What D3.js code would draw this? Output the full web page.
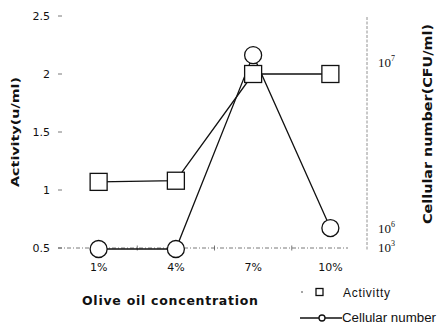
<!DOCTYPE html>
<meta charset="utf-8">
<style>
body { margin: 0; background: #fff; }
text { fill: #111; }
.tick-left { font: 11px "DejaVu Sans", sans-serif; }
.title { font-family: "DejaVu Sans", Verdana, sans-serif; font-weight: bold; }
.sup { font-family: "Liberation Serif", "DejaVu Serif", serif; }
.legend { font: 12px "Liberation Sans Narrow", "Liberation Sans", Arial, sans-serif; }
</style>
<svg width="437" height="331"></svg>
<script src="https://d3js.org/d3.v7.min.js"></script>
<script>

var categories = ["1%", "4%", "7%", "10%"];
var activity = [1.07, 1.08, 2.0, 2.0];          // u/ml
var cellular = [1e3, 1e3, 1.1e7, 9.8e5];        // CFU/ml
var leftTicks = [0.5, 1, 1.5, 2, 2.5];
var rightTicks = [{ v: 1e7, b: "10", e: "7" }, { v: 1e6, b: "10", e: "6" }, { v: 1e3, b: "10", e: "3" }];

var svg = d3.select("svg");

var x = d3.scaleBand().domain(categories).range([60, 369]).paddingInner(0);
var y = d3.scaleLinear().domain([0.5, 2.5]).range([248, 16]);
// broken log axis: 10^3 sits just under 10^6
var yr = d3.scaleLinear().domain([3, 6, 7]).range([249, 228, 62]);
function ry(v) { return yr(Math.log10(v)); }
function cx(c) { return x(c) + x.bandwidth() / 2; }

// x axis (dash-dot line)
svg.append("line")
  .attr("x1", 58).attr("x2", 348).attr("y1", y(0.5)).attr("y2", y(0.5))
  .attr("stroke", "#555").attr("stroke-width", 0.8)
  .attr("stroke-dasharray", "4,2,1,2");
svg.selectAll(".xtick").data(categories.slice(1))
  .enter().append("line")
  .attr("x1", function(d) { return x(d); }).attr("x2", function(d) { return x(d); })
  .attr("y1", y(0.5) - 2.5).attr("y2", y(0.5) + 2.5)
  .attr("stroke", "#555").attr("stroke-width", 0.8);
svg.selectAll(".xlab").data(categories)
  .enter().append("text")
  .attr("class", "tick-left")
  .attr("x", cx).attr("y", 271)
  .attr("text-anchor", "middle")
  .text(function(d) { return d; });

// left ticks
svg.selectAll(".ytick").data(leftTicks)
  .enter().append("line")
  .attr("x1", 58).attr("x2", 62)
  .attr("y1", y).attr("y2", y)
  .attr("stroke", "#555").attr("stroke-width", 0.8);
svg.selectAll(".ylab").data(leftTicks)
  .enter().append("text")
  .attr("class", "tick-left")
  .attr("x", 50).attr("y", function(d) { return y(d) + 4; })
  .attr("text-anchor", "end")
  .text(function(d) { return d; });

// right axis (dashed)
svg.append("line")
  .attr("x1", 367).attr("x2", 367).attr("y1", 17).attr("y2", 250)
  .attr("stroke", "#777").attr("stroke-width", 0.8)
  .attr("stroke-dasharray", "3,1.5");
var rl = svg.selectAll(".rlab").data(rightTicks)
  .enter().append("text")
  .attr("class", "sup")
  .attr("x", 378)
  .attr("y", function(d, i) { return i === 2 ? 252 : ry(d.v) + 5; })
  .attr("font-size", 13);
rl.append("tspan").text(function(d) { return d.b; });
rl.append("tspan").attr("dy", -6).attr("font-size", 8).text(function(d) { return d.e; });

// titles
svg.append("text").attr("class", "title")
  .attr("transform", "translate(19,132) rotate(-90)")
  .attr("text-anchor", "middle").attr("font-size", 11)
  .attr("textLength", 110).attr("lengthAdjust", "spacingAndGlyphs")
  .text("Activity(u/ml)");
svg.append("text").attr("class", "title")
  .attr("transform", "translate(432,124) rotate(-90)")
  .attr("text-anchor", "middle").attr("font-size", 11.5)
  .attr("textLength", 200).attr("lengthAdjust", "spacingAndGlyphs")
  .text("Cellular number(CFU/ml)");
svg.append("text").attr("class", "title")
  .attr("x", 82).attr("y", 305).attr("font-size", 12.5)
  .attr("textLength", 176).attr("lengthAdjust", "spacing")
  .text("Olive oil concentration");

// lines
var lineA = d3.line().x(function(d, i) { return cx(categories[i]); }).y(function(d) { return y(d); });
var lineC = d3.line().x(function(d, i) { return cx(categories[i]); }).y(function(d) { return ry(d); });
svg.append("path").attr("d", lineA(activity)).attr("fill", "none").attr("stroke", "#111").attr("stroke-width", 1.3);
svg.append("path").attr("d", lineC(cellular)).attr("fill", "none").attr("stroke", "#111").attr("stroke-width", 1.3);

// markers
svg.selectAll(".circ").data(cellular)
  .enter().append("circle")
  .attr("cx", function(d, i) { return cx(categories[i]); })
  .attr("cy", ry).attr("r", 8.5)
  .attr("fill", "#fff").attr("stroke", "#111").attr("stroke-width", 1.3);
svg.selectAll(".sq").data(activity)
  .enter().append("rect")
  .attr("x", function(d, i) { return cx(categories[i]) - 8.5; })
  .attr("y", function(d) { return y(d) - 8.5; })
  .attr("width", 17).attr("height", 17)
  .attr("fill", "#fff").attr("stroke", "#111").attr("stroke-width", 1.3);

// legend
svg.append("circle").attr("cx", 302).attr("cy", 292).attr("r", 0.8).attr("fill", "#333");
svg.append("rect").attr("x", 316).attr("y", 288.5).attr("width", 7).attr("height", 7)
  .attr("fill", "#fff").attr("stroke", "#111").attr("stroke-width", 1.3);
svg.append("text").attr("class", "legend").attr("x", 343).attr("y", 297)
  .attr("textLength", 47).attr("lengthAdjust", "spacing").text("Activitty");
svg.append("line").attr("x1", 300).attr("x2", 342).attr("y1", 318).attr("y2", 318)
  .attr("stroke", "#111").attr("stroke-width", 1.3);
svg.append("circle").attr("cx", 322).attr("cy", 318).attr("r", 3)
  .attr("fill", "#fff").attr("stroke", "#111").attr("stroke-width", 1.3);
svg.append("text").attr("class", "legend").attr("x", 342).attr("y", 322)
  .attr("textLength", 94).attr("lengthAdjust", "spacingAndGlyphs").text("Cellular number");

</script>
